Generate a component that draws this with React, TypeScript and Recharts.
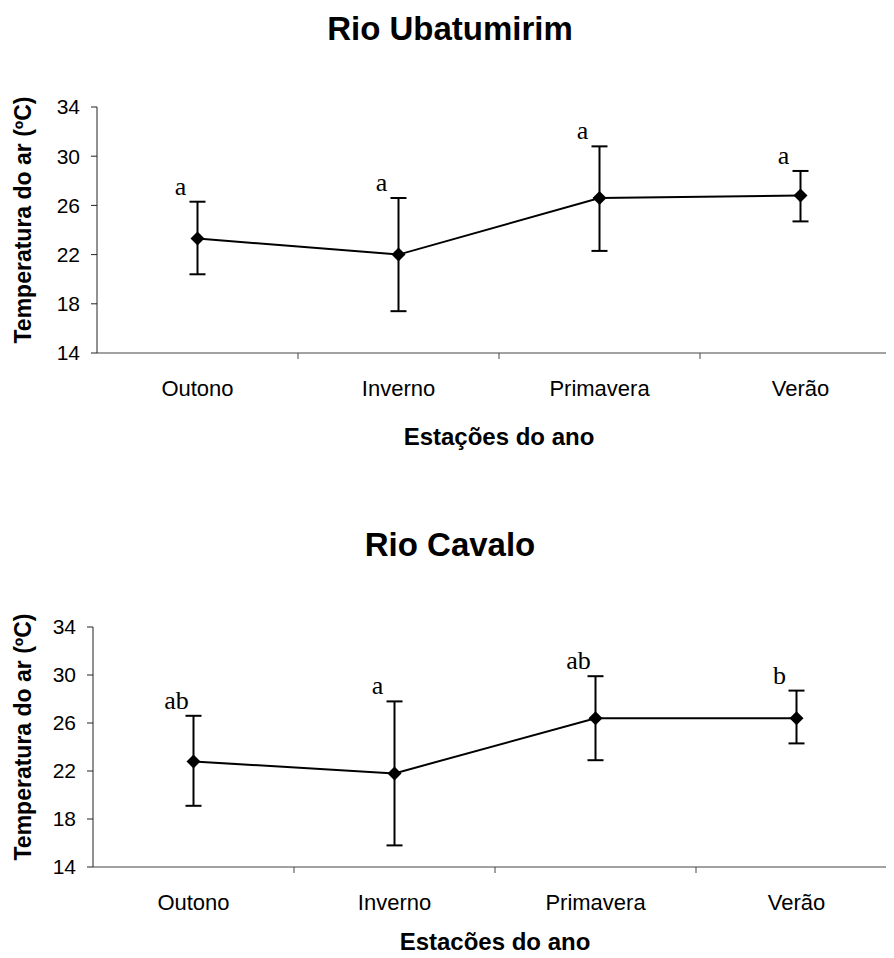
import { LineChart, Line, XAxis, YAxis, ErrorBar, LabelList } from 'recharts';

// categories and ticks
const seasons = ['Outono', 'Inverno', 'Primavera', 'Verão'];
const yTicks = [14, 18, 22, 26, 30, 34];

// Rio Ubatumirim: mean air temperature, [lower, upper] error, letters
const ubatumirimMean = [23.3, 22.0, 26.6, 26.8];
const ubatumirimErr: [number, number][] = [[2.9, 3.0], [4.6, 4.6], [4.3, 4.2], [2.1, 2.0]];
const ubatumirimLetters = ['a', 'a', 'a', 'a'];

// Rio Cavalo
const cavaloMean = [22.8, 21.8, 26.4, 26.4];
const cavaloErr: [number, number][] = [[3.7, 3.8], [6.0, 6.0], [3.5, 3.5], [2.1, 2.3]];
const cavaloLetters = ['ab', 'a', 'ab', 'b'];

const SANS = "'Liberation Sans', Arial, sans-serif";
const SERIF = "'Liberation Serif', 'Times New Roman', serif";

// category centres at integers, Excel-style tick marks between categories
const xTicks = seasons.flatMap((_, i) => [i, i + 0.5]);

function buildData(mean: number[], err: [number, number][], letters: string[]) {
  return seasons.map((s, i) => ({
    pos: i,
    season: s,
    mean: mean[i],
    err: err[i],
    top: mean[i] + err[i][1],
    letter: letters[i],
  }));
}

const SeasonTick = (props: any) => {
  const { x, y, payload } = props;
  const v = payload.value;
  if (Number.isInteger(v)) {
    return (
      <text x={x} y={y + 35} textAnchor="middle" dominantBaseline="central" fontFamily={SANS} fontSize={22} fill="#000">
        {seasons[v]}
      </text>
    );
  }
  return <line x1={x} x2={x} y1={y} y2={y + 6} stroke="#444" strokeWidth={1} />;
};

const Diamond = (props: any) => {
  const { cx, cy } = props;
  if (cx == null || cy == null) return <g />;
  return <path d={`M${cx},${cy - 7} L${cx + 7},${cy} L${cx},${cy + 7} L${cx - 7},${cy} Z`} fill="#000" />;
};

const Letter = (props: any) => {
  const { x, y, value } = props;
  return (
    <text x={x - 17} y={y - 7} textAnchor="middle" fontFamily={SERIF} fontSize={26} fill="#000">
      {value}
    </text>
  );
};

const yTitle = (shift: number) => (props: any) => {
  const vb = props.viewBox || {};
  const cy = (vb.y ?? 0) + (vb.height ?? 0) / 2 + shift;
  return (
    <text
      transform={`translate(23, ${cy}) rotate(-90)`}
      textAnchor="middle"
      dominantBaseline="central"
      fontFamily={SANS}
      fontWeight="bold"
      fontSize={23}
      fill="#000"
    >
      Temperatura do ar (ºC)
    </text>
  );
};

interface PanelProps {
  title: string;
  data: ReturnType<typeof buildData>;
  top: number;
  height: number;
  axisWidth: number;
  xAxisHeight: number;
  rightMargin: number;
  titleTop: number;
  xTitleOffset: number;
}

function Panel({ title, data, top, height, axisWidth, xAxisHeight, rightMargin, titleTop, xTitleOffset }: PanelProps) {
  return (
    <>
      <div
        style={{
          position: 'absolute',
          left: 0,
          width: 900,
          top: titleTop,
          textAlign: 'center',
          fontFamily: SANS,
          fontWeight: 'bold',
          fontSize: 33,
          lineHeight: '33px',
        }}
      >
        {title}
      </div>
      <div style={{ position: 'absolute', left: 0, top }}>
        <LineChart width={910} height={height} data={data} margin={{ top: 107, right: rightMargin, bottom: 0, left: 0 }}>
          <XAxis
            dataKey="pos"
            type="number"
            domain={[-0.5, 3.5]}
            ticks={xTicks}
            interval={0}
            height={xAxisHeight}
            tickSize={0}
            tickMargin={0}
            tickLine={false}
            tick={SeasonTick}
            axisLine={{ stroke: '#444', strokeWidth: 1 }}
            label={{
              value: 'Estações do ano',
              position: 'insideBottom',
              offset: xTitleOffset,
              fontFamily: SANS,
              fontWeight: 'bold',
              fontSize: 24,
              fill: '#000',
            }}
          />
          <YAxis
            type="number"
            domain={[14, 34]}
            ticks={yTicks}
            interval={0}
            width={axisWidth}
            tickSize={6}
            tickMargin={11}
            tick={{ fontFamily: SANS, fontSize: 21, fill: '#000' }}
            axisLine={{ stroke: '#222', strokeWidth: 1 }}
            tickLine={{ stroke: '#222', strokeWidth: 1 }}
            label={{ content: yTitle(-10) }}
          />
          <Line
            dataKey="mean"
            stroke="#000"
            strokeWidth={2}
            dot={Diamond}
            activeDot={false}
            isAnimationActive={false}
          >
            <ErrorBar dataKey="err" direction="y" width={8} stroke="#000" strokeWidth={2} />
          </Line>
          <Line dataKey="top" stroke="none" dot={false} activeDot={false} legendType="none" isAnimationActive={false}>
            <LabelList dataKey="letter" content={Letter} />
          </Line>
        </LineChart>
      </div>
    </>
  );
}

export default function App() {
  return (
    <div style={{ position: 'relative', width: 894, height: 958, margin: -8, overflow: 'hidden', background: '#fff' }}>
      <Panel
        title="Rio Ubatumirim"
        data={buildData(ubatumirimMean, ubatumirimErr, ubatumirimLetters)}
        top={0}
        height={460}
        axisWidth={97}
        xAxisHeight={107}
        rightMargin={9}
        titleTop={12}
        xTitleOffset={15}
      />
      <Panel
        title="Rio Cavalo"
        data={buildData(cavaloMean, cavaloErr, cavaloLetters)}
        top={520}
        height={438}
        axisWidth={93}
        xAxisHeight={91}
        rightMargin={13}
        titleTop={528}
        xTitleOffset={8}
      />
    </div>
  );
}
